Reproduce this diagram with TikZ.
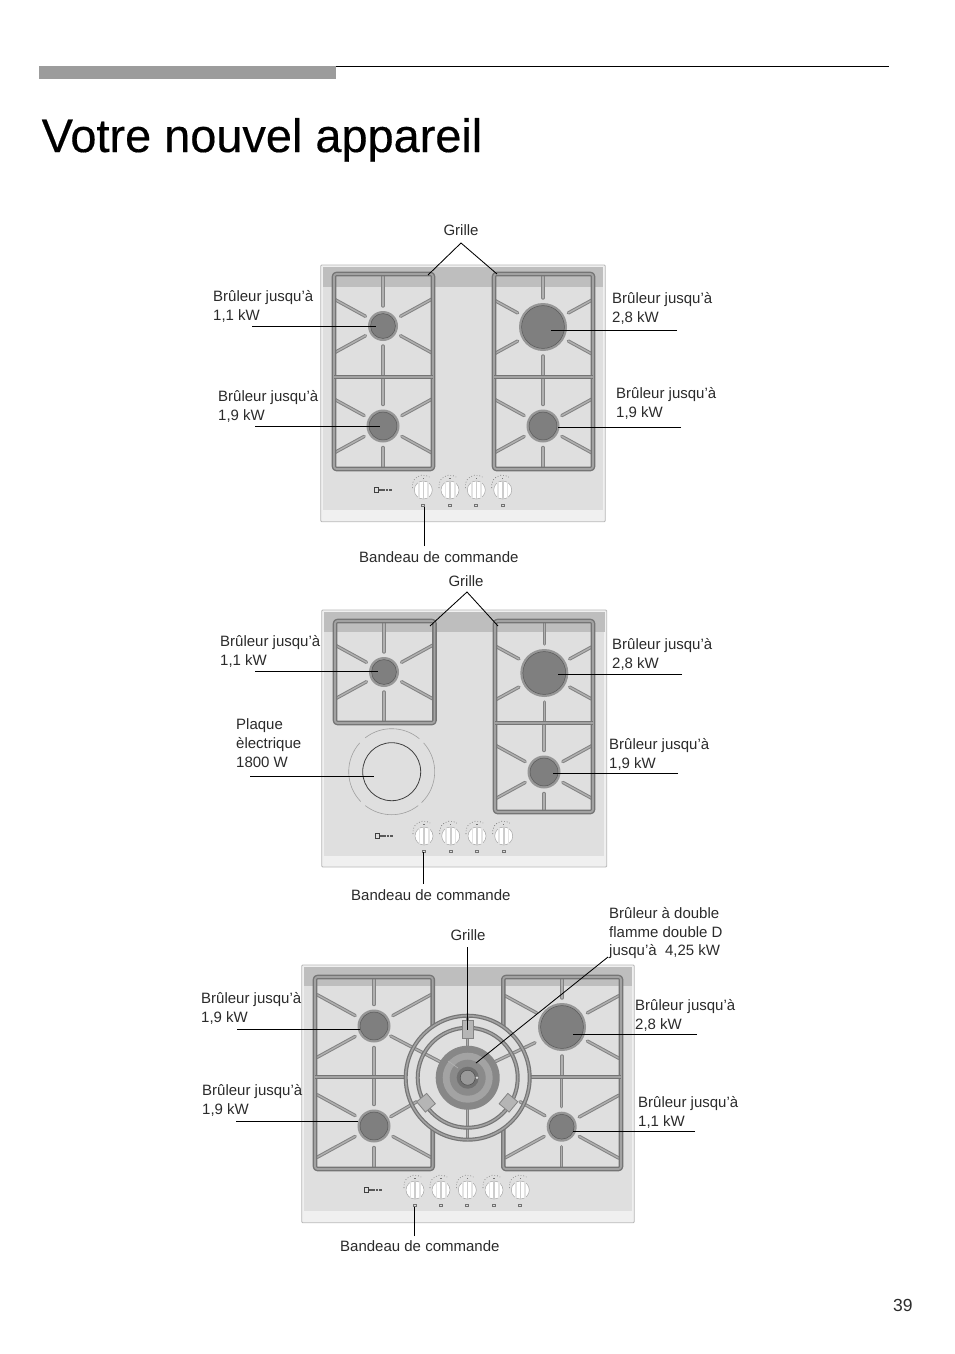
\documentclass[tikz,border=0pt]{standalone}
\usepackage{fontspec}
\setmainfont{Liberation Sans}
\newfontfamily\titlefont[FakeBold=0.35]{Liberation Sans}
\definecolor{txt}{HTML}{2B2B2B}
\definecolor{topbar}{HTML}{9C9C9C}
\definecolor{paneledge}{HTML}{B8B8B8}
\definecolor{panelout}{HTML}{F0F0F0}
\definecolor{panelin}{HTML}{DFDFDF}
\definecolor{band}{HTML}{BEBEBE}
\definecolor{grout}{HTML}{757575}
\definecolor{grin}{HTML}{A2A2A2}
\definecolor{rim}{HTML}{969696}
\definecolor{flame}{HTML}{7F7F7F}
\tikzset{
  x=1pt,y=-1pt,
  lbl/.style={anchor=north west,inner sep=0pt,align=left,text=txt,font=\fontsize{15}{18.8}\selectfont},
  lblc/.style={anchor=center,inner sep=0pt,text=txt,font=\fontsize{15}{18.8}\selectfont},
  leader/.style={draw=black,line width=0.85pt},
  frameline/.style={draw=grout,line width=4.6pt,line join=round,postaction={draw=grin,line width=1.8pt}},
  armline/.style={draw=grout!90,line width=3.4pt,line cap=round,postaction={draw=grin!85,line width=1.4pt}},
  ringline/.style={draw=grout,line width=4pt,postaction={draw=grin,line width=1.6pt}},
  bracket/.style={draw=grout!90,fill=grin!80,line width=0.8pt}
}
% burner
\newcommand{\hobburner}[3]{%
  \fill[rim] (#1,#2) circle[radius=#3];
  \draw[draw=flame!70!black,fill=flame,line width=0.5pt] (#1,#2) circle[radius=#3-2.6];
}
% diagonal arm: cx cy r sx sy xedge
\newcommand{\hobarm}[6]{%
  \pgfmathsetmacro{\ax}{#1+#4*(#3+5)*0.875}%
  \pgfmathsetmacro{\ay}{#2+#5*(#3+5)*0.485}%
  \pgfmathsetmacro{\by}{#2+#5*abs(#6-#1)*0.55}%
  \draw[armline] (\ax,\ay) -- (#6,\by);
}
% vertical arms: cx cy r y0 y1
\newcommand{\hobvert}[5]{%
  \draw[armline] (#1,#4) -- (#1,#2-#3-5);
  \draw[armline] (#1,#2+#3+5) -- (#1,#5);
}
% full cell: cx cy r x0 y0 x1 y1
\newcommand{\hobcell}[7]{%
  \hobvert{#1}{#2}{#3}{#5}{#7}
  \hobarm{#1}{#2}{#3}{-1}{-1}{#4}
  \hobarm{#1}{#2}{#3}{-1}{1}{#4}
  \hobarm{#1}{#2}{#3}{1}{-1}{#6}
  \hobarm{#1}{#2}{#3}{1}{1}{#6}
}
% rectangular grate
\newcommand{\hobframe}[4]{%
  \draw[frameline,rounded corners=2.5pt] (#1,#2) rectangle (#3,#4);
}
% panel: x0 y0 x1 y1 bandtop bandbottom striptop
\newcommand{\hobpanel}[7]{%
  \draw[paneledge,fill=panelout,line width=0.8pt,rounded corners=1pt] (#1,#2) rectangle (#3,#4);
  \fill[panelin] (#1+2.5,#6) rectangle (#3-2.5,#7);
  \fill[band] (#1+2,#5) rectangle (#3-2,#6);
}
\newcommand{\hobknob}[2]{%
  \fill[white] (#1,#2) circle[radius=9];
  \draw[gray!70,line width=0.5pt] (#1,#2) circle[radius=9];
  \fill[gray!22] (#1-5.5,#2-8) rectangle (#1-3.8,#2+8);
  \fill[gray!22] (#1+3.8,#2-8) rectangle (#1+5.5,#2+8);
  \fill[gray!40] (#1-0.8,#2-8.7) rectangle (#1+0.8,#2+8.7);
  \draw[black!55,line width=0.6pt,dash pattern=on 0.8pt off 2pt] (#1-11,#2-2) arc[start angle=170,end angle=305,radius=11];
  \fill[black!55] (#1-0.6,#2-12) rectangle (#1+0.6,#2-10.8);
  \fill[black!55] (#1-2,#2+13.5) rectangle (#1+2,#2+17);
  \fill[panelin] (#1-1,#2+14.5) rectangle (#1+1,#2+16);
}
\newcommand{\hoblogo}[2]{%
  \draw[black!75,line width=0.8pt] (#1-9,#2-2.5) rectangle (#1-4.5,#2+2.5);
  \draw[black!65,line width=1.8pt,dash pattern=on 2.6pt off 0.8pt] (#1-4,#2) -- (#1+9,#2);
}
\begin{document}
\begin{tikzpicture}
\useasboundingbox (0,0) rectangle (954,1354);
\fill[white] (0,0) rectangle (954,1354);

% header
\fill[topbar] (39,66) rectangle (336,79);
\coordinate (ruleA) at (336,66);
\coordinate (ruleB) at (889,66);
\draw[black,line width=0.9pt] (ruleA) -- (ruleB);
\node[anchor=base west,inner sep=0pt,text=black,font=\titlefont\fontsize{46.9}{50}\selectfont] (title) at (41.5,152) {Votre nouvel appareil};
\node[anchor=base west,inner sep=0pt,text=txt,font=\fontsize{17.5}{20}\selectfont] (pagenum) at (893,1311) {39};

%%%%% HOB 1
\hobpanel{320.7}{265}{605.3}{521.7}{267}{287}{510}
\hobcell{383}{326}{15}{334}{274}{433}{377}
\hobcell{383}{426}{16.5}{334}{377}{433}{469}
\hobcell{543}{327}{24}{494}{274}{593}{377}
\hobcell{543}{426}{16.5}{494}{377}{593}{469}
\hobframe{334}{274}{433}{469}
\hobframe{494}{274}{593}{469}
\draw[frameline] (334,377) -- (433,377);
\draw[frameline] (494,377) -- (593,377);
\hobburner{383}{326}{15}
\hobburner{383}{426}{16.5}
\hobburner{543}{327}{24}
\hobburner{543}{426}{16.5}
\foreach \kx in {423.3,450,476.3,502.7} {\hobknob{\kx}{490}}
\hoblogo{383}{490}

%%%%% HOB 2
\hobpanel{321.7}{610}{606.7}{867}{612}{632}{856}
\hobcell{384}{672}{15}{335}{621}{434.5}{723}
\hobcell{544.3}{673}{24}{495}{621}{593}{723}
\hobcell{544}{772}{16.5}{495}{723}{593}{812}
\hobframe{335}{621}{434.5}{723}
\hobframe{495}{621}{593}{812}
\draw[frameline] (495,723) -- (593,723);
\hobburner{384}{672}{15}
\hobburner{544.3}{673}{24}
\hobburner{544}{772}{16.5}
% electric plate
\draw[black!75,line width=0.8pt] (391.7,771.7) circle[radius=29];
\draw[gray!75,line width=0.6pt] (391.7,771.7) ++(52:43) arc[start angle=52,end angle=128,radius=43];
\draw[gray!75,line width=0.6pt] (391.7,771.7) ++(-42:43) arc[start angle=-42,end angle=46,radius=43];
\draw[gray!75,line width=0.6pt] (391.7,771.7) ++(-128:43) arc[start angle=-128,end angle=-50,radius=43];
\draw[gray!75,line width=0.6pt] (391.7,771.7) ++(136:43) arc[start angle=136,end angle=222,radius=43];
\foreach \kx in {424,450.7,477,503.7} {\hobknob{\kx}{836}}
\hoblogo{384}{836}

%%%%% HOB 3
\hobpanel{301.7}{965}{634.3}{1222.7}{966.7}{986}{1211}
% arms of the four corner burners
\hobvert{374}{1026}{16.5}{977}{1077}
\hobvert{374}{1126}{16.5}{1077}{1169}
\hobvert{562}{1027}{24}{977}{1077}
\hobvert{561.7}{1126.7}{15}{1077}{1169}
\hobarm{374}{1026}{16.5}{-1}{-1}{317}
\hobarm{374}{1026}{16.5}{-1}{1}{317}
\hobarm{374}{1026}{16.5}{1}{-1}{431}
\hobarm{374}{1126}{16.5}{-1}{-1}{317}
\hobarm{374}{1126}{16.5}{-1}{1}{317}
\hobarm{374}{1126}{16.5}{1}{1}{431}
\hobarm{562}{1027}{24}{-1}{-1}{505}
\hobarm{562}{1027}{24}{1}{-1}{619}
\hobarm{562}{1027}{24}{1}{1}{619}
\hobarm{561.7}{1126.7}{15}{-1}{1}{505}
\hobarm{561.7}{1126.7}{15}{1}{-1}{619}
\hobarm{561.7}{1126.7}{15}{1}{1}{619}
\draw[armline] (390.7,1036) -- (440,1061.7);
\draw[armline] (535,1042.7) -- (495,1061.7);
\draw[armline] (390.7,1116.7) -- (416.7,1101.7);
\draw[armline] (545,1115.7) -- (520,1101.7);
\draw[armline] (467.7,1015.5) -- (467.7,1046);
\draw[armline] (467.7,1108) -- (467.7,1139);
% notched grates
\draw[frameline,rounded corners=2.5pt] (432.7,1027) -- (432.7,977) -- (315,977) -- (315,1169) -- (432.7,1169) -- (432.7,1129);
\draw[frameline,rounded corners=2.5pt] (503.3,1027) -- (503.3,977) -- (621,977) -- (621,1169) -- (503.3,1169) -- (503.3,1129);
\draw[frameline] (315,1077) -- (405.7,1077);
\draw[frameline] (530,1077) -- (621,1077);
% central rings
\draw[ringline] (467.7,1077.7) circle[radius=62];
\draw[ringline] (467.7,1077.7) circle[radius=50];
% brackets
\draw[bracket] (462,1020) rectangle (473.5,1038);
\draw[bracket,rotate around={40:(426,1102.7)}] (419.5,1096) rectangle (432.5,1109.5);
\draw[bracket,rotate around={-40:(508.5,1102.7)}] (502,1096) rectangle (515,1109.5);
% central burner
\fill[black!47] (467.7,1077.7) circle[radius=32];
\fill[black!36] (467.7,1077.7) circle[radius=25];
\fill[black!46] (467.7,1077.7) circle[radius=18];
\fill[black!56] (467.7,1077.7) circle[radius=11];
\draw[black!70,fill=black!40,line width=0.5pt] (467.7,1077.7) circle[radius=7.5];
\fill[white!85!black] (477,1077.7) circle[radius=1.3];
\draw[white!70!black,line width=0.6pt] (458,1068) -- (448,1061);
\hobburner{374}{1026}{16.5}
\hobburner{374}{1126}{16.5}
\hobburner{562}{1027}{24}
\hobburner{561.7}{1126.7}{15}
\foreach \kx in {415,441,467.3,494,520.3} {\hobknob{\kx}{1190}}
\hoblogo{373}{1190}

%%%%% LABELS
\node[lblc] (g1) at (461,230) {Grille};
\node[lbl] (a1) at (213,290) {Brûleur jusqu’à\\1,1 kW};
\node[lbl] (a2) at (218,390) {Brûleur jusqu’à\\1,9 kW};
\node[lbl] (a3) at (612,292) {Brûleur jusqu’à\\2,8 kW};
\node[lbl] (a4) at (616,387) {Brûleur jusqu’à\\1,9 kW};
\node[lbl] (a5) at (359,551.5) {Bandeau de commande};

\node[lblc] (g2) at (466,581) {Grille};
\node[lbl] (b1) at (220,635) {Brûleur jusqu’à\\1,1 kW};
\node[lbl] (b2) at (612,638) {Brûleur jusqu’à\\2,8 kW};
\node[lbl] (b3) at (236,718.5) {Plaque\\èlectrique\\1800 W};
\node[lbl] (b4) at (609,738) {Brûleur jusqu’à\\1,9 kW};
\node[lbl] (b5) at (351,889.5) {Bandeau de commande};

\node[lblc] (g3) at (468,935) {Grille};
\node[lbl] (c0) at (609,907) {Brûleur à double\\flamme double D\\jusqu’à\ \ 4,25 kW};
\node[lbl] (c1) at (201,992) {Brûleur jusqu’à\\1,9 kW};
\node[lbl] (c2) at (202,1084) {Brûleur jusqu’à\\1,9 kW};
\node[lbl] (c3) at (635,999) {Brûleur jusqu’à\\2,8 kW};
\node[lbl] (c4) at (638,1096) {Brûleur jusqu’à\\1,1 kW};
\node[lbl] (c5) at (340,1240.5) {Bandeau de commande};

%%%%% LEADERS (free ends are named coordinates)
\coordinate (p1a) at (252,326);  \coordinate (p1b) at (376,326);
\coordinate (p2a) at (255,426);  \coordinate (p2b) at (380,426);
\coordinate (p3a) at (677,330);  \coordinate (p3b) at (551,330);
\coordinate (p4a) at (681,427);  \coordinate (p4b) at (558,427);
\coordinate (p5a) at (424,546);  \coordinate (p5b) at (424,507);
\coordinate (p6a) at (428,275);  \coordinate (p6b) at (461,243); \coordinate (p6c) at (497,274);
\draw[leader] (p1a) -- (p1b);
\draw[leader] (p2a) -- (p2b);
\draw[leader] (p3a) -- (p3b);
\draw[leader] (p4a) -- (p4b);
\draw[leader] (p5a) -- (p5b);
\draw[leader] (p6a) -- (p6b) -- (p6c);

\coordinate (q1a) at (255,671);  \coordinate (q1b) at (378,671);
\coordinate (q2a) at (682,674);  \coordinate (q2b) at (558,674);
\coordinate (q3a) at (250,776);  \coordinate (q3b) at (374,776);
\coordinate (q4a) at (678,773);  \coordinate (q4b) at (553,773);
\coordinate (q5a) at (423,884);  \coordinate (q5b) at (423,852);
\coordinate (q6a) at (430,626);  \coordinate (q6b) at (467,592); \coordinate (q6c) at (498,626);
\draw[leader] (q1a) -- (q1b);
\draw[leader] (q2a) -- (q2b);
\draw[leader] (q3a) -- (q3b);
\draw[leader] (q4a) -- (q4b);
\draw[leader] (q5a) -- (q5b);
\draw[leader] (q6a) -- (q6b) -- (q6c);

\coordinate (r1a) at (237,1029); \coordinate (r1b) at (360,1029);
\coordinate (r2a) at (236,1121); \coordinate (r2b) at (358,1121);
\coordinate (r3a) at (697,1034); \coordinate (r3b) at (573,1034);
\coordinate (r4a) at (695,1131); \coordinate (r4b) at (573,1131);
\coordinate (r5a) at (414,1236); \coordinate (r5b) at (414,1207);
\coordinate (r6a) at (467.5,947); \coordinate (r6b) at (467.5,1030);
\coordinate (r7a) at (608,957);  \coordinate (r7b) at (476,1063);
\draw[leader] (r1a) -- (r1b);
\draw[leader] (r2a) -- (r2b);
\draw[leader] (r3a) -- (r3b);
\draw[leader] (r4a) -- (r4b);
\draw[leader] (r5a) -- (r5b);
\draw[leader] (r6a) -- (r6b);
\draw[leader] (r7a) -- (r7b);
\end{tikzpicture}
\end{document}
